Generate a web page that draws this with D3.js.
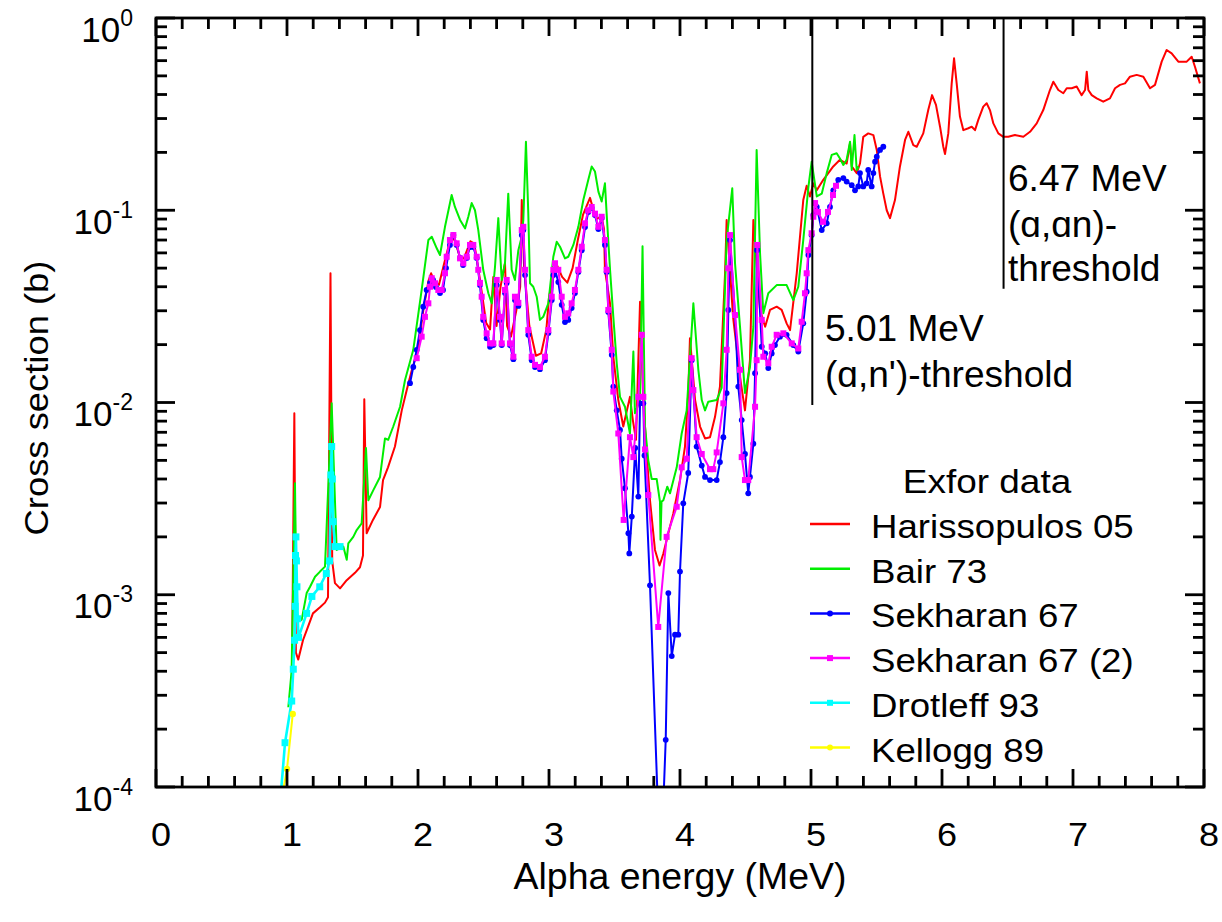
<!DOCTYPE html>
<html>
<head>
<meta charset="utf-8">
<script src="https://cdn.jsdelivr.net/npm/d3@7/dist/d3.min.js"></script>
<style>
  html, body { margin: 0; padding: 0; background: #fff; }
  svg text { font-family: "Liberation Sans", Arial, Helvetica, sans-serif; fill: #000; }
</style>
</head>
<body>
<svg id="chart" width="1222" height="922"></svg>
<script>
// Alpha-induced cross sections, Exfor data sets: [energy (MeV), cross section (b)]
const harissopulos05 = [
  [1.040,5.5e-4],[1.056,8.8e-3],[1.068,5.0e-4],[1.086,4.6e-4],[1.122,5.8e-4],[1.160,6.8e-4],[1.198,8.0e-4],
  [1.252,8.6e-4],[1.290,9.1e-4],[1.313,9.7e-4],[1.332,0.047],[1.345,1.5e-3],[1.366,1.15e-3],[1.405,1.08e-3],
  [1.456,1.19e-3],[1.519,1.3e-3],[1.557,1.39e-3],[1.580,1.6e-3],[1.590,0.0104],[1.608,2.09e-3],[1.656,2.45e-3],
  [1.710,2.86e-3],[1.733,3.95e-3],[1.771,4.6e-3],[1.824,5.9e-3],[1.876,9.1e-3],[1.914,0.0116],[1.950,0.0145],
  [2.000,0.019],[2.040,0.030],[2.080,0.043],[2.100,0.047],[2.130,0.042],[2.160,0.041],[2.200,0.053],[2.250,0.072],
  [2.280,0.070],[2.320,0.057],[2.350,0.056],[2.400,0.069],[2.430,0.067],[2.470,0.045],[2.520,0.026],[2.550,0.024],
  [2.575,0.045],[2.600,0.025],[2.630,0.040],[2.664,0.053],[2.680,0.025],[2.710,0.022],[2.750,0.030],[2.780,0.040],
  [2.792,0.113],[2.810,0.050],[2.850,0.025],[2.900,0.0175],[2.940,0.018],[2.980,0.024],[3.000,0.035],[3.040,0.050],
  [3.060,0.052],[3.100,0.045],[3.140,0.042],[3.180,0.050],[3.220,0.070],[3.260,0.095],[3.313,0.116],[3.340,0.100],
  [3.360,0.090],[3.400,0.093],[3.420,0.080],[3.427,0.049],[3.466,0.0328],[3.491,0.0173],[3.529,0.0103],[3.567,7.5e-3],
  [3.618,0.0107],[3.640,8.1e-3],[3.664,6.4e-3],[3.695,0.0334],[3.720,0.0103],[3.746,5.4e-3],[3.771,3.1e-3],
  [3.809,1.71e-3],[3.844,1.42e-3],[3.873,1.64e-3],[3.911,2.09e-3],[3.949,2.65e-3],[4.000,3.95e-3],[4.038,5.9e-3],
  [4.063,0.0112],[4.076,0.0216],[4.115,0.0103],[4.153,7.5e-3],[4.191,6.5e-3],[4.229,6.6e-3],[4.267,8.4e-3],
  [4.305,0.0121],[4.344,0.047],[4.356,0.089],[4.405,0.0279],[4.458,0.0136],[4.496,9.1e-3],[4.534,0.0166],
  [4.560,0.089],[4.611,0.0303],[4.650,0.0248],[4.687,0.0303],[4.738,0.0315],[4.776,0.0303],[4.814,0.0258],
  [4.840,0.0238],[4.891,0.047],[4.941,0.113],[4.967,0.134],[4.992,0.118],[5.018,0.138],[5.044,0.127],[5.094,0.144],
  [5.170,0.169],[5.221,0.183],[5.272,0.175],[5.298,0.223],[5.311,0.169],[5.349,0.156],[5.374,0.175],[5.399,0.241],
  [5.437,0.251],[5.476,0.246],[5.502,0.206],[5.527,0.150],[5.552,0.122],[5.578,0.100],[5.603,0.091],[5.641,0.113],
  [5.679,0.169],[5.718,0.232],[5.743,0.256],[5.781,0.218],[5.807,0.214],[5.857,0.251],[5.895,0.332],[5.924,0.397],
  [5.954,0.353],[5.985,0.272],[6.010,0.214],[6.023,0.196],[6.048,0.251],[6.074,0.457],[6.092,0.617],[6.112,0.457],
  [6.137,0.307],[6.163,0.261],[6.201,0.267],[6.227,0.272],[6.252,0.261],[6.277,0.295],[6.315,0.346],[6.341,0.360],
  [6.366,0.332],[6.392,0.283],[6.430,0.251],[6.468,0.241],[6.506,0.241],[6.557,0.246],[6.621,0.241],[6.672,0.256],
  [6.723,0.283],[6.773,0.332],[6.824,0.422],[6.850,0.466],[6.888,0.422],[6.926,0.406],[6.952,0.431],[6.990,0.431],
  [7.028,0.440],[7.066,0.397],[7.092,0.422],[7.105,0.526],[7.117,0.422],[7.143,0.397],[7.181,0.382],[7.231,0.367],
  [7.282,0.382],[7.321,0.431],[7.359,0.449],[7.397,0.457],[7.435,0.495],[7.486,0.506],[7.537,0.495],[7.588,0.431],
  [7.626,0.449],[7.677,0.593],[7.715,0.682],[7.753,0.655],[7.804,0.593],[7.868,0.593],[7.906,0.629],[7.931,0.558],
  [7.969,0.457]
];

const bair73 = [
  [1.010,2.6e-4],[1.035,4.0e-4],[1.061,3.8e-3],[1.074,7.4e-4],[1.112,7.4e-4],[1.150,1.02e-3],[1.176,1.1e-3],
  [1.214,1.24e-3],[1.252,1.32e-3],[1.290,1.4e-3],[1.341,9.9e-3],[1.379,1.71e-3],[1.430,1.78e-3],[1.456,1.52e-3],
  [1.468,1.85e-3],[1.506,2.0e-3],[1.532,2.17e-3],[1.570,2.35e-3],[1.603,5.8e-3],[1.621,3.1e-3],[1.659,3.5e-3],
  [1.710,4.1e-3],[1.748,6.5e-3],[1.773,6.4e-3],[1.811,7.5e-3],[1.863,9.5e-3],[1.901,0.0131],[1.964,0.0188],
  [2.028,0.0385],[2.079,0.070],[2.105,0.0728],[2.143,0.0634],[2.168,0.0585],[2.206,0.082],[2.257,0.120],
  [2.282,0.104],[2.321,0.089],[2.359,0.0805],[2.384,0.0925],[2.410,0.109],[2.435,0.100],[2.460,0.079],
  [2.498,0.049],[2.537,0.037],[2.563,0.0328],[2.588,0.051],[2.613,0.091],[2.626,0.062],[2.639,0.0434],
  [2.664,0.053],[2.689,0.122],[2.715,0.049],[2.740,0.0434],[2.766,0.062],[2.792,0.073],[2.804,0.089],
  [2.824,0.227],[2.842,0.096],[2.855,0.0417],[2.880,0.040],[2.906,0.0355],[2.931,0.0269],[2.956,0.0279],
  [2.995,0.0328],[3.033,0.0573],[3.059,0.0686],[3.084,0.0646],[3.122,0.0562],[3.147,0.0573],[3.186,0.066],
  [3.224,0.082],[3.262,0.113],[3.300,0.144],[3.326,0.169],[3.351,0.159],[3.377,0.125],[3.402,0.111],
  [3.427,0.138],[3.440,0.096],[3.466,0.049],[3.491,0.0279],[3.517,0.016],[3.542,0.0107],[3.580,9.5e-3],
  [3.618,6.9e-3],[3.644,0.0184],[3.656,8.8e-3],[3.695,0.0102],[3.714,0.065],[3.733,7.5e-3],[3.758,5.0e-3],
  [3.784,4.0e-3],[3.822,4.0e-3],[3.847,3.05e-3],[3.851,1.93e-3],[3.859,3.05e-3],[3.873,3.1e-3],[3.903,3.65e-3],
  [3.924,3.37e-3],[3.975,4.6e-3],[4.013,6.9e-3],[4.051,9.1e-3],[4.102,0.0328],[4.140,0.0148],[4.166,0.0103],
  [4.191,9.1e-3],[4.216,0.0101],[4.280,0.0103],[4.318,0.0119],[4.356,0.070],[4.399,0.130],[4.420,0.053],
  [4.458,0.0248],[4.496,0.0112],[4.534,0.0153],[4.560,0.0248],[4.585,0.206],[4.611,0.0597],[4.636,0.0291],
  [4.674,0.037],[4.738,0.0408],[4.814,0.0408],[4.865,0.0341],[4.903,0.040],[4.941,0.070],[4.980,0.132],
  [5.005,0.179],[5.044,0.118],[5.082,0.122],[5.120,0.156],[5.158,0.194],[5.196,0.198],[5.221,0.186],
  [5.247,0.172],[5.272,0.183],[5.298,0.227],[5.311,0.162],[5.332,0.246],[5.349,0.162],[5.364,0.169]
];

const sekharan67 = [
  [1.939,0.0126],[1.964,0.0153],[1.990,0.0188],[2.015,0.0238],[2.040,0.0315],[2.066,0.0385],[2.092,0.0419],
  [2.115,0.0434],[2.137,0.0399],[2.168,0.0371],[2.191,0.0385],[2.214,0.050],[2.244,0.066],[2.270,0.0743],
  [2.295,0.066],[2.321,0.0565],[2.344,0.0519],[2.372,0.0565],[2.397,0.0644],[2.422,0.0644],[2.448,0.0565],
  [2.473,0.0408],[2.498,0.0269],[2.524,0.0216],[2.550,0.0195],[2.575,0.0199],[2.601,0.0408],[2.626,0.0269],
  [2.639,0.0199],[2.664,0.0371],[2.677,0.0419],[2.702,0.0199],[2.728,0.0168],[2.740,0.0341],[2.766,0.0318],
  [2.792,0.0743],[2.804,0.0789],[2.817,0.046],[2.842,0.0225],[2.868,0.0166],[2.893,0.0153],[2.931,0.0149],
  [2.969,0.0166],[2.995,0.023],[3.021,0.0341],[3.033,0.046],[3.046,0.049],[3.071,0.0423],[3.097,0.0322],
  [3.122,0.0262],[3.147,0.0269],[3.173,0.031],[3.198,0.0371],[3.224,0.0478],[3.250,0.062],[3.275,0.0818],
  [3.300,0.098],[3.326,0.103],[3.351,0.0945],[3.377,0.0799],[3.402,0.0912],[3.427,0.066],[3.440,0.0478],
  [3.453,0.0296],[3.479,0.0177],[3.491,0.0121],[3.517,9.1e-3],[3.542,7.2e-3],[3.555,5.1e-3],[3.580,3.58e-3],
  [3.606,2.09e-3],[3.613,1.64e-3],[3.632,2.55e-3],[3.658,5.8e-3],[3.682,3.24e-3],[3.695,9.9e-3],[3.720,9.9e-3],
  [3.729,5.3e-3],[3.771,1.12e-3],[3.851,3.3e-5],[3.891,1.76e-4],[3.911,1.02e-3],[3.937,4.8e-4],[3.962,6.2e-4],
  [3.987,6.2e-4],[4.000,1.32e-3],[4.025,2.99e-3],[4.063,4.3e-3],[4.089,0.0166],[4.127,5.9e-3],[4.166,4.7e-3],
  [4.191,4.1e-3],[4.229,3.95e-3],[4.280,3.95e-3],[4.305,4.9e-3],[4.331,6.6e-3],[4.356,0.0112],[4.369,0.0303],
  [4.382,0.070],[4.420,0.0285],[4.445,0.0121],[4.471,8.1e-3],[4.496,5.4e-3],[4.521,3.37e-3],[4.534,4.1e-3],
  [4.560,6.1e-3],[4.573,0.0142],[4.588,0.062],[4.624,0.0195],[4.650,0.018],[4.674,0.0151],[4.700,0.018],
  [4.725,0.0199],[4.763,0.022],[4.814,0.0225],[4.865,0.0199],[4.903,0.0184],[4.941,0.0258],[4.967,0.0377],
  [4.980,0.0585],[5.005,0.0743],[5.018,0.0945],[5.044,0.104],[5.082,0.0789],[5.120,0.0855],[5.145,0.104],
  [5.170,0.127],[5.208,0.144],[5.247,0.147],[5.272,0.141],[5.311,0.135],[5.336,0.127],[5.361,0.133],
  [5.374,0.156],[5.399,0.133],[5.425,0.138],[5.437,0.162],[5.463,0.133],[5.476,0.156],[5.489,0.179],
  [5.502,0.190],[5.527,0.206],[5.552,0.214]
];

const sekharan67b = [
  [1.990,0.017],[2.028,0.022],[2.053,0.0279],[2.079,0.0328],[2.092,0.040],[2.105,0.0443],[2.130,0.0417],
  [2.155,0.0385],[2.181,0.0385],[2.206,0.047],[2.219,0.0573],[2.244,0.070],[2.270,0.0743],[2.295,0.0673],
  [2.321,0.0562],[2.346,0.053],[2.372,0.0573],[2.397,0.066],[2.422,0.066],[2.448,0.0573],[2.460,0.049],
  [2.473,0.0419],[2.486,0.0355],[2.498,0.0279],[2.524,0.0229],[2.550,0.0203],[2.575,0.0203],[2.601,0.0434],
  [2.626,0.0279],[2.639,0.0203],[2.664,0.0385],[2.677,0.0434],[2.702,0.0203],[2.728,0.0173],[2.740,0.0355],
  [2.766,0.033],[2.792,0.0789],[2.804,0.082],[2.817,0.049],[2.842,0.0238],[2.868,0.0173],[2.893,0.0157],
  [2.931,0.0153],[2.969,0.0173],[2.995,0.0238],[3.021,0.0355],[3.033,0.049],[3.046,0.053],[3.071,0.049],
  [3.097,0.0355],[3.122,0.0279],[3.147,0.0291],[3.173,0.0328],[3.198,0.0385],[3.224,0.049],[3.250,0.0646],
  [3.275,0.0855],[3.300,0.100],[3.326,0.104],[3.351,0.096],[3.377,0.082],[3.402,0.0925],[3.427,0.070],
  [3.440,0.049],[3.453,0.0303],[3.479,0.0188],[3.491,0.0114],[3.529,6.9e-3],[3.570,2.45e-3],[3.618,6.6e-3],
  [3.644,5.2e-3],[3.682,0.0107],[3.708,0.0225],[3.720,0.0107],[3.733,5.7e-3],[3.758,3.3e-3],[3.834,6.8e-4],
  [3.898,2.0e-3],[3.975,2.87e-3],[4.013,4.6e-3],[4.051,5.1e-3],[4.089,0.017],[4.102,0.0116],[4.127,6.6e-3],
  [4.166,5.4e-3],[4.229,4.5e-3],[4.254,4.5e-3],[4.280,5.5e-3],[4.331,9.9e-3],[4.356,0.0188],[4.369,0.0499],
  [4.382,0.0743],[4.420,0.0285],[4.458,0.0148],[4.471,5.2e-3],[4.496,3.95e-3],[4.521,3.95e-3],[4.573,9.5e-3],
  [4.585,0.0166],[4.590,0.066],[4.624,0.0269],[4.636,0.0173],[4.674,0.016],[4.700,0.0195],[4.738,0.0225],
  [4.789,0.0229],[4.853,0.0203],[4.903,0.0191],[4.929,0.0263],[4.954,0.037],[4.967,0.047],[4.980,0.062],
  [5.005,0.0759],[5.018,0.0925],[5.031,0.109],[5.053,0.098],[5.092,0.087],[5.130,0.098],[5.168,0.120],
  [5.191,0.134]
];

const drotleff93 = [
  [0.954,9.4e-5],[0.985,1.7e-4],[1.036,2.8e-4],[1.048,4.1e-4],[1.058,5.8e-4],[1.062,8.7e-4],[1.065,1.6e-3],
  [1.068,2.0e-3],[1.072,1.5e-3],[1.076,1.1e-3],[1.082,7.5e-4],[1.088,6.0e-4],[1.150,8.0e-4],[1.190,9.8e-4],
  [1.250,1.1e-3],[1.300,1.29e-3],[1.325,1.5e-3],[1.335,4.2e-3],[1.341,5.9e-3],[1.346,4.0e-3],[1.352,2.4e-3],
  [1.366,1.78e-3],[1.405,1.78e-3]
];

const kellogg89 = [
  [0.970,9.6e-5],[1.000,1.24e-4],[1.044,2.4e-4]
];

const seriesNames = ["Harissopulos 05", "Bair 73", "Sekharan 67", "Sekharan 67 (2)", "Drotleff 93", "Kellogg 89"];
const seriesData = [harissopulos05, bair73, sekharan67, sekharan67b, drotleff93, kellogg89];
const seriesColors = ["#ff0000", "#00ee00", "#0000ff", "#ff00ff", "#00ffff", "#ffff00"];
const seriesMarkers = ["none", "none", "circle", "square", "square", "circle"];

const xTickValues = [0, 1, 2, 3, 4, 5, 6, 7, 8];
const yTickValues = [1, 0.1, 0.01, 0.001, 0.0001];
const yTickExponents = ["0", "-1", "-2", "-3", "-4"];

// Reaction thresholds: energy, lower end of the marker line, label lines
const thresholdEnergies = [5.01, 6.47];
const thresholdLineEnds = [0.0097, 0.039];
const thresholdLabels = [["5.01 MeV", "(\u0251,n')-threshold"], ["6.47 MeV", "(\u0251,\u0251n)-", "threshold"]];

// ---------------------------------------------------------------
const svg = d3.select("#chart");
const plotLeft = 156, plotRight = 1204, plotTop = 18, plotBottom = 787;

const x = d3.scaleLinear().domain([0, 8]).range([plotLeft, plotRight]);
const y = d3.scaleLog().domain([1e-4, 1]).range([plotBottom, plotTop]);

// text that is slightly widened horizontally
function wideText(parent, px, py, size, sx, anchor) {
  return parent.append("text")
    .attr("transform", `translate(${px},${py}) scale(${sx},1)`)
    .attr("font-size", size)
    .attr("text-anchor", anchor || "start");
}

svg.append("defs").append("clipPath").attr("id", "plotClip")
  .append("rect").attr("x", plotLeft).attr("y", plotTop)
  .attr("width", plotRight - plotLeft).attr("height", plotBottom - plotTop);

const plot = svg.append("g").attr("clip-path", "url(#plotClip)");
const line = d3.line().x(d => x(d[0])).y(d => y(d[1]));

seriesData.forEach((data, i) => {
  const g = plot.append("g");
  g.append("path").datum(data)
    .attr("d", line)
    .attr("fill", "none")
    .attr("stroke", seriesColors[i])
    .attr("stroke-width", i === 4 ? 2.6 : 2)
    .attr("stroke-linejoin", "round");
  if (seriesMarkers[i] === "circle") {
    g.selectAll("circle").data(data).join("circle")
      .attr("cx", d => x(d[0])).attr("cy", d => y(d[1]))
      .attr("r", i === 5 ? 3.2 : 2.9)
      .attr("fill", seriesColors[i]);
  } else if (seriesMarkers[i] === "square") {
    const s = i === 4 ? 7 : 6;
    g.selectAll("rect").data(data).join("rect")
      .attr("x", d => x(d[0]) - s / 2).attr("y", d => y(d[1]) - s / 2)
      .attr("width", s).attr("height", s)
      .attr("fill", seriesColors[i]);
  }
});

// threshold markers
thresholdEnergies.forEach((e, i) => {
  svg.append("line")
    .attr("x1", x(e)).attr("x2", x(e))
    .attr("y1", y(1)).attr("y2", y(thresholdLineEnds[i]))
    .attr("stroke", "#000").attr("stroke-width", 2);
});
const ann1 = wideText(svg, 825, 341, 36, 1.03);
ann1.append("tspan").attr("x", 0).text(thresholdLabels[0][0]);
ann1.append("tspan").attr("x", 0).attr("dy", 46).text(thresholdLabels[0][1]);
const ann2 = wideText(svg, 1008, 191, 36, 1.03);
ann2.append("tspan").attr("x", 0).text(thresholdLabels[1][0]);
ann2.append("tspan").attr("x", 0).attr("dy", 46).text(thresholdLabels[1][1]);
ann2.append("tspan").attr("x", 0).attr("dy", 44).text(thresholdLabels[1][2]);

// tick labels
xTickValues.forEach(v => {
  wideText(svg, x(v) + 5, 846, 34, 1.06, "middle").text(v);
});
yTickValues.forEach((v, i) => {
  const t = svg.append("text").attr("x", 133).attr("y", y(v) + 23.5)
    .attr("text-anchor", "end").attr("font-size", 35);
  t.append("tspan").text("10");
  t.append("tspan").attr("font-size", 23).attr("dy", -16).text(yTickExponents[i]);
});

// axis titles
wideText(svg, 680, 889, 36, 1.04, "middle").text("Alpha energy (MeV)");
svg.append("text").attr("transform", "translate(48,398) rotate(-90) scale(1.07,1)")
  .attr("text-anchor", "middle").attr("font-size", 34).text("Cross section (b)");

// legend
const legend = svg.append("g");
wideText(legend, 987, 493, 33, 1.12, "middle").text("Exfor data");
seriesNames.forEach((name, i) => {
  const cy = 524 + i * 44.7;
  legend.append("line").attr("x1", 810).attr("x2", 850).attr("y1", cy).attr("y2", cy)
    .attr("stroke", seriesColors[i]).attr("stroke-width", 2.5);
  if (seriesMarkers[i] === "circle") {
    legend.append("circle").attr("cx", 830).attr("cy", cy).attr("r", 3).attr("fill", seriesColors[i]);
  } else if (seriesMarkers[i] === "square") {
    legend.append("rect").attr("x", 827).attr("y", cy - 3).attr("width", 6).attr("height", 6).attr("fill", seriesColors[i]);
  }
  wideText(legend, 871, cy + 14, 33, 1.11).text(name);
});

// frame with inward ticks on all four sides (major 18 px, minor 10 px), drawn on top
const xMinor = d3.range(0, 8.0001, 0.2).filter(v => Math.abs(v - Math.round(v)) > 1e-6);
const yMinor = [];
[1e-4, 1e-3, 1e-2, 1e-1].forEach(d => { for (let k = 2; k <= 9; k++) yMinor.push(d * k); });

const tickBars = [];
xTickValues.forEach(v => {
  tickBars.push([x(v) - 1.4, plotBottom - 18, 2.8, 18], [x(v) - 1.4, plotTop, 2.8, 18]);
});
xMinor.forEach(v => {
  tickBars.push([x(v) - 1.4, plotBottom - 11, 2.8, 11], [x(v) - 1.4, plotTop, 2.8, 11]);
});
yTickValues.forEach(v => {
  tickBars.push([plotLeft, y(v) - 1.4, 19, 2.8], [plotRight - 19, y(v) - 1.4, 19, 2.8]);
});
yMinor.forEach(v => {
  tickBars.push([plotLeft, y(v) - 1.4, 11, 2.8], [plotRight - 11, y(v) - 1.4, 11, 2.8]);
});

const frame = svg.append("g");
frame.append("rect").attr("x", plotLeft).attr("y", plotTop)
  .attr("width", plotRight - plotLeft).attr("height", plotBottom - plotTop)
  .attr("fill", "none").attr("stroke", "#000").attr("stroke-width", 2.8);
frame.selectAll("rect.tickbar").data(tickBars).join("rect")
  .attr("class", "tickbar")
  .attr("x", d => d[0]).attr("y", d => d[1])
  .attr("width", d => d[2]).attr("height", d => d[3])
  .attr("fill", "#000");
</script>
</body>
</html>
